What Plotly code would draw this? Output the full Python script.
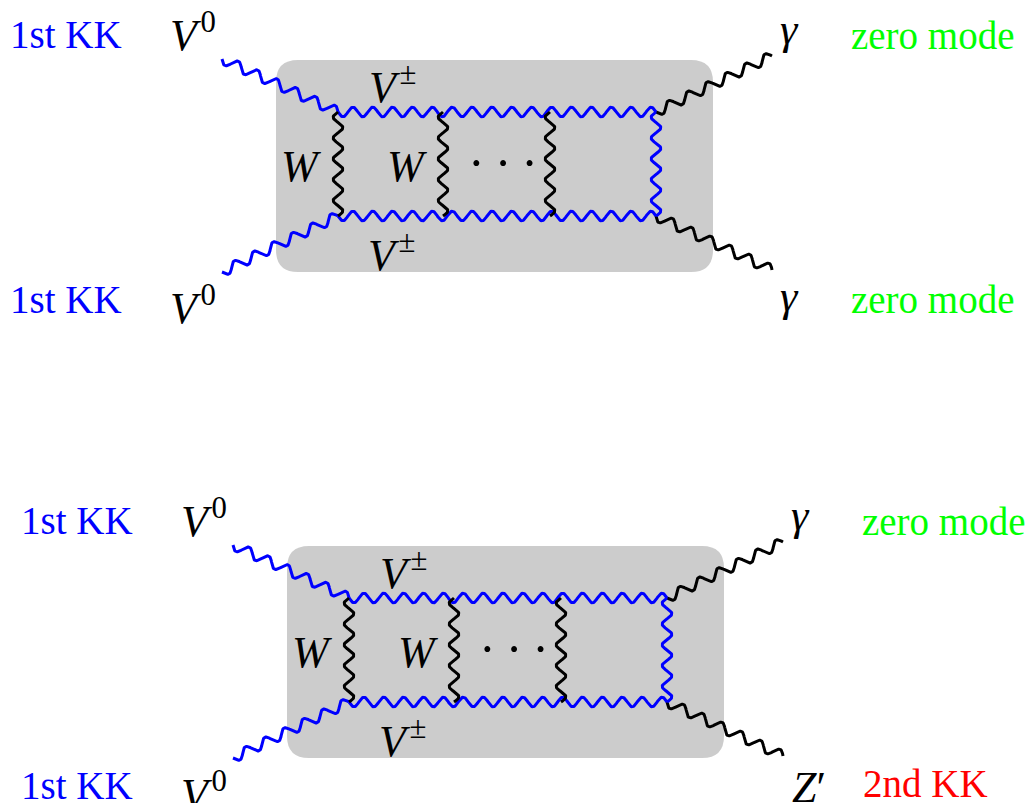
import numpy as np
import plotly.graph_objects as go

W, H = 1030, 803

# Particle content of the two box diagrams (upper, lower)
V0 = "<i>V</i>&#8202;<sup>0</sup>"
in_modes = [["1st KK", "1st KK"], ["1st KK", "1st KK"]]
in_particles = [[V0, V0], [V0, V0]]
out_particles = [["<i>γ</i>", "<i>γ</i>"], ["<i>γ</i>", "<i>Z</i>′"]]
out_modes = [["zero mode", "zero mode"], ["zero mode", "2nd KK"]]
out_mode_colors = [["#00ff00", "#00ff00"], ["#00ff00", "#ff0000"]]
loop_label = "<i>V</i>&#8202;<sup>±</sup>"
rung_label = "<i>W</i>"
ellipsis = "·&#8201;·&#8201;·"

BLUE, BLACK, GREY = "#0000ff", "#000000", "#cccccc"
FONT = "Liberation Serif"
TXT, MATH = 39, 44

# diagram frame (upper diagram, pixel units); the lower one is shifted
offsets = [(0, 0), (11, 486)]
box = (276, 60, 713, 272, 22)
v_tl, v_tr, v_bl, v_br = (338, 112), (656, 112), (338, 216), (656, 216)
e_tl, e_tr, e_bl, e_br = (222, 59), (772, 56), (222, 272), (772, 270)
rungs = [(338, BLACK), (443, BLACK), (550, BLACK), (656, BLUE)]


def wavy(p0, p1, wavelength=20.0, amp=4.8):
    p0 = np.asarray(p0, float)
    p1 = np.asarray(p1, float)
    d = p1 - p0
    L = np.hypot(*d)
    u = d / L
    nrm = np.array([-u[1], u[0]])
    n = max(1, round(L / wavelength))
    t = np.linspace(0, 1, int(L * 2) + 2)
    off = amp * np.sin(2 * np.pi * n * t)
    pts = p0[None, :] + t[:, None] * d[None, :] + off[:, None] * nrm[None, :]
    return pts[:, 0], pts[:, 1]


def sh(p, o):
    return (p[0] + o[0], p[1] + o[1])


def rounded(x0, y0, x1, y1, r):
    return (f"M{x0+r},{y0} L{x1-r},{y0} Q{x1},{y0} {x1},{y0+r} "
            f"L{x1},{y1-r} Q{x1},{y1} {x1-r},{y1} L{x0+r},{y1} "
            f"Q{x0},{y1} {x0},{y1-r} L{x0},{y0+r} Q{x0},{y0} {x0+r},{y0} Z")


fig = go.Figure()
shapes, annotations = [], []


def label(x, y, text, size=TXT, color=BLACK):
    annotations.append(dict(x=x, y=y, xref="x", yref="y", text=text,
                            showarrow=False, xanchor="center", yanchor="middle",
                            font=dict(family=FONT, size=size, color=color)))


for k, o in enumerate(offsets):
    x0, y0, x1, y1, r = box
    shapes.append(dict(type="path", path=rounded(x0 + o[0], y0 + o[1], x1 + o[0], y1 + o[1], r),
                       fillcolor=GREY, line=dict(width=0), layer="below",
                       xref="x", yref="y"))

    lines = [
        (e_tl, v_tl, BLUE), (e_bl, v_bl, BLUE),
        (v_tr, e_tr, BLACK), (v_br, e_br, BLACK),
        (v_tl, v_tr, BLUE), (v_bl, v_br, BLUE),
    ]
    for xr, col in rungs:
        lines.append(((xr, v_tl[1]), (xr, v_bl[1]), col))

    for p0, p1, col in lines:
        xs, ys = wavy(sh(p0, o), sh(p1, o))
        fig.add_trace(go.Scatter(x=xs, y=ys, mode="lines", hoverinfo="skip",
                                 line=dict(color=col, width=3)))

    ox, oy = o
    # external legs
    label(66 + ox, 34 + oy, in_modes[k][0], color=BLUE)
    label(66 + ox, 299 + oy, in_modes[k][1], color=BLUE)
    label(193 + ox, 32 + oy, in_particles[k][0], size=MATH)
    label(193 + ox, 305 + oy, in_particles[k][1], size=MATH)
    label(789 + ox, 29 + oy, out_particles[k][0], size=MATH)
    if k == 0:
        label(789 + ox, 296 + oy, out_particles[k][1], size=MATH)
    else:
        label(798 + ox, 301 + oy, out_particles[k][1], size=MATH)
    label(933 + ox, 35 + oy, out_modes[k][0], color=out_mode_colors[k][0])
    if k == 0:
        label(933 + ox, 299 + oy, out_modes[k][1], color=out_mode_colors[k][1])
    else:
        label(914 + ox, 297 + oy, out_modes[k][1], color=out_mode_colors[k][1])

    # loop labels
    label(392 + ox, 84 + oy, loop_label, size=MATH)
    label(391 + ox, 252 + oy, loop_label, size=MATH)
    label(301 + ox, 166 + oy, rung_label, size=MATH)
    label(407 + ox, 166 + oy, rung_label, size=MATH)
    label(503 + ox, 163 + oy, ellipsis, size=50)

fig.update_layout(
    width=W, height=H,
    margin=dict(l=0, r=0, t=0, b=0),
    paper_bgcolor="white", plot_bgcolor="white",
    showlegend=False,
    xaxis=dict(range=[0, W], visible=False, fixedrange=True),
    yaxis=dict(range=[H, 0], visible=False, fixedrange=True),
    shapes=shapes, annotations=annotations,
)

fig.write_html("out.html")
